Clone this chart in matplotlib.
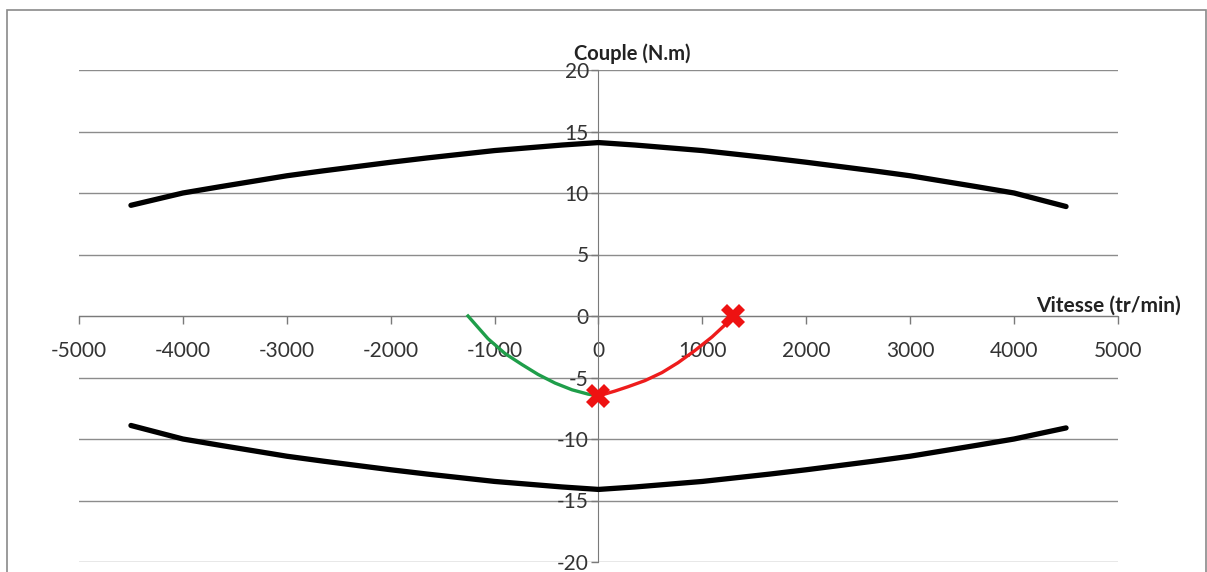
import matplotlib
matplotlib.use('Agg')
import matplotlib.pyplot as plt
from matplotlib.patches import Rectangle

plt.rcParams['font.family'] = ['Lato', 'DejaVu Sans']
plt.rcParams['axes.unicode_minus'] = False

# Envelope of the torque / speed plane
speed = [-4500, -4000, -3650, -3000, -2650, -2000, -1650, -1000, -350, 0,
         350, 1000, 1650, 2000, 2650, 3000, 3650, 4000, 4500]
couple_max = [9.0, 10.0, 10.5, 11.4, 11.8, 12.5, 12.85, 13.45, 13.9, 14.1,
              13.9, 13.45, 12.85, 12.5, 11.8, 11.4, 10.5, 10.0, 8.9]
couple_min = [-8.9, -10.0, -10.5, -11.4, -11.8, -12.5, -12.85, -13.45, -13.9, -14.1,
              -13.9, -13.45, -12.85, -12.5, -11.8, -11.4, -10.5, -10.0, -9.1]

# green branch (negative speed)
speed_green = [-1256, -1063, -900, -736, -582, -419, -255, -101, 0]
couple_green = [0.0, -1.85, -3.05, -3.95, -4.75, -5.45, -6.0, -6.35, -6.5]

# red branch (positive speed)
speed_red = [0, 159, 284, 448, 611, 765, 929, 1093, 1246, 1294]
couple_red = [-6.5, -6.1, -5.75, -5.25, -4.6, -3.8, -2.8, -1.7, -0.5, 0.0]

# red crosses
speed_pts = [0, 1294]
couple_pts = [-6.5, 0.0]

xticks = [-5000, -4000, -3000, -2000, -1000, 0, 1000, 2000, 3000, 4000, 5000]
yticks = [-20, -15, -10, -5, 0, 5, 10, 15, 20]

W, H = 1207, 572
fig = plt.figure(figsize=(W / 100, H / 100), dpi=100)
ax = fig.add_axes([79 / W, (H - 562) / H, (1118 - 79) / W, (562 - 70) / H])

# outer chart frame
fig.patches.append(Rectangle((7 / W, -0.05), (1206 - 7) / W, (H - 10) / H + 0.05,
                             transform=fig.transFigure, fill=False,
                             edgecolor='#8a8a8a', linewidth=1.2))

ax.set_xlim(-5000, 5000)
ax.set_ylim(-20, 20)

for y in yticks:
    ax.axhline(y, color='#8c8c8c', linewidth=1.0, zorder=1)

ax.spines['top'].set_visible(False)
ax.spines['right'].set_visible(False)
ax.spines['left'].set_position(('data', 0))
ax.spines['bottom'].set_position(('data', 0))
ax.spines['left'].set_color('#7a7a7a')
ax.spines['bottom'].set_color('#7a7a7a')

ax.set_xticks(xticks)
ax.set_yticks(yticks)
ax.tick_params(axis='x', direction='out', length=6, width=1, color='#7a7a7a',
               labelsize=15, labelcolor='#333333', pad=12)
ax.tick_params(axis='y', direction='out', length=5, width=1, color='#7a7a7a',
               labelsize=15, labelcolor='#333333', pad=2)

ax.plot(speed, couple_max, color='black', linewidth=3.8, solid_capstyle='round',
        solid_joinstyle='round', zorder=3)
ax.plot(speed, couple_min, color='black', linewidth=3.8, solid_capstyle='round',
        solid_joinstyle='round', zorder=3)
ax.plot(speed_green, couple_green, color='#1f9e4a', linewidth=2.4,
        solid_joinstyle='round', zorder=4)
ax.plot(speed_red, couple_red, color='#ee1c1c', linewidth=2.4,
        solid_joinstyle='round', zorder=4)
ax.plot(speed_pts, couple_pts, linestyle='none', marker='X', markersize=17,
        color='#ee1212', markeredgewidth=0, zorder=5, clip_on=False)

ax.text(-240, 20.8, 'Couple (N.m)', fontsize=14.5, fontweight='bold',
        color='#222222', ha='left', va='baseline', clip_on=False)
ax.text(4210, 0.35, 'Vitesse (tr/min)', fontsize=15, fontweight='bold',
        color='#222222', ha='left', va='baseline', clip_on=False)

fig.savefig('out.png', dpi=100)
